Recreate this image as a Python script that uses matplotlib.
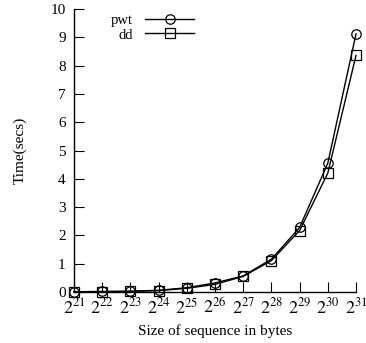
import matplotlib
matplotlib.use('Agg')
import matplotlib.pyplot as plt
import numpy as np

plt.rcParams['font.family'] = 'Liberation Serif'
plt.rcParams['mathtext.fontset'] = 'stix'

exps = [21, 22, 23, 24, 25, 26, 27, 28, 29, 30, 31]
pwt = [0.01, 0.02, 0.03, 0.06, 0.15, 0.32, 0.57, 1.16, 2.28, 4.55, 9.12]
dd = [0.01, 0.01, 0.02, 0.05, 0.13, 0.27, 0.55, 1.11, 2.17, 4.2, 8.36]
xlabels = ['$2^{%d}$' % e for e in exps]

fig = plt.figure(figsize=(3.66, 3.43), dpi=100)
ax = fig.add_axes([74 / 366, 51 / 343, 282 / 366, 283 / 343])

ax.plot(exps, pwt, color='black', lw=1, marker='o', ms=6.8, mfc='none', mew=0.9, label='pwt', clip_on=False)
ax.plot(exps, dd, color='black', lw=1, marker='s', ms=6.8, mfc='none', mew=0.9, label='dd', clip_on=False)

ax.set_xlim(21, 31)
ax.set_ylim(0, 10)
ax.set_xticks(exps)
ax.set_xticklabels(xlabels, fontsize=13)
ax.set_yticks(range(0, 11))
ax.tick_params(axis='y', direction='in', length=7, labelsize=11, pad=6)
ax.tick_params(axis='x', direction='in', length=7, pad=4)
for s in ['top', 'right']:
    ax.spines[s].set_visible(False)
for s in ['left', 'bottom']:
    ax.spines[s].set_linewidth(1)

ax.set_xlabel('Size of sequence in bytes', fontsize=11, labelpad=5)
ax.set_ylabel('Time(secs)', fontsize=11, labelpad=17)

ax.legend(loc='upper left', bbox_to_anchor=(0.085, 1.03), frameon=False, markerfirst=False,
          handlelength=3.4, fontsize=10.5, labelspacing=0.1, handletextpad=0.8)

fig.savefig('out.png', dpi=100)
